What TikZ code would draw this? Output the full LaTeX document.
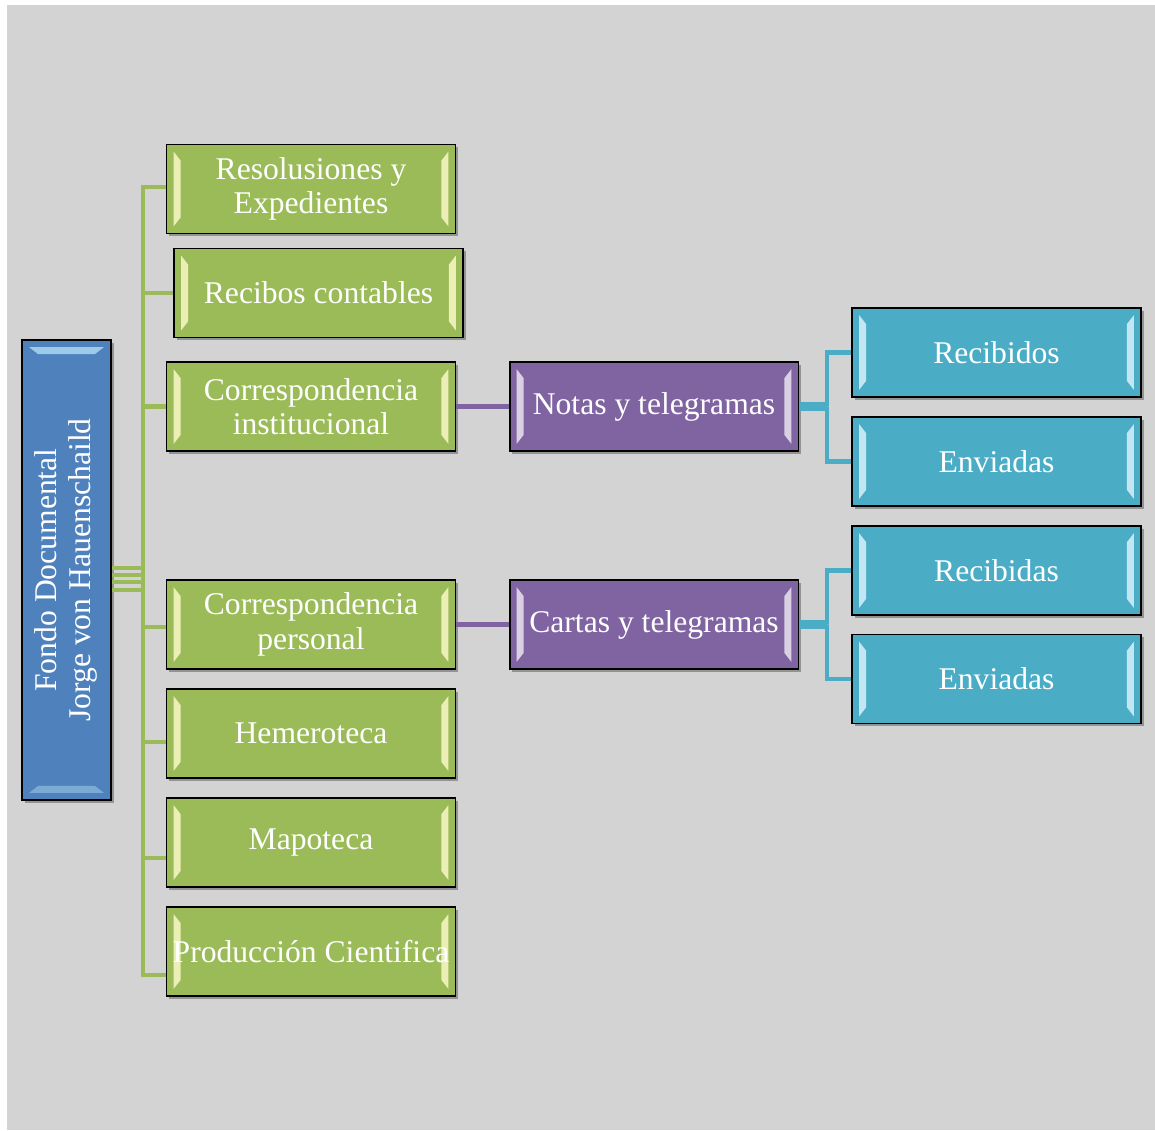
\documentclass[tikz,border=0pt]{standalone}
\usepackage{fontspec}
\setmainfont{Liberation Serif}
\usepackage{tikz}
\usetikzlibrary{calc,shadows,positioning}
\definecolor{bggray}{HTML}{D3D3D3}
\definecolor{grfill}{HTML}{9BBB59}
\definecolor{blfill}{HTML}{4F81BD}
\definecolor{pufill}{HTML}{8064A2}
\definecolor{cyfill}{HTML}{4BACC6}
\tikzset{
	smbox/.style={draw=black,line width=1.1pt,text=white,align=center,
		minimum width=5.78cm,minimum height=1.78cm,inner sep=2pt,
		font=\fontsize{18}{19.5}\selectfont,
		drop shadow={shadow xshift=1.5pt,shadow yshift=-1.5pt,opacity=.3,fill=black}},
	% light edges left and right
	bevel h/.style={path picture={
		\fill[#1,opacity=.8] ($(path picture bounding box.north west)+(7,7)$) -- ++(7,9)
			-- ($(path picture bounding box.south west)+(14,-16)$) -- ++(-7,9) -- cycle;
		\fill[#1,opacity=.8] ($(path picture bounding box.north east)+(-7,7)$) -- ++(-7,9)
			-- ($(path picture bounding box.south east)+(-14,-16)$) -- ++(7,9) -- cycle;}},
	% light edges top and bottom
	bevel v/.style={path picture={
		\fill[#1,opacity=.7] ($(path picture bounding box.north west)+(7,7)$) -- ++(9,7)
			-- ($(path picture bounding box.north east)+(-16,14)$) -- ++(9,-7) -- cycle;
		\fill[#1,opacity=.4] ($(path picture bounding box.south west)+(7,-7)$) -- ++(9,-7)
			-- ($(path picture bounding box.south east)+(-16,-14)$) -- ++(9,7) -- cycle;}},
	grbox/.style={smbox,fill=grfill,bevel h={yellow!20!white}},
	pubox/.style={smbox,fill=pufill,bevel h={pufill!12!white}},
	cybox/.style={smbox,fill=cyfill,bevel h={cyan!12!white}},
	rootbox/.style={smbox,fill=blfill,minimum width=1.78cm,minimum height=9.2cm,
		inner sep=0pt,bevel v={cyan!25!white}},
	grline/.style={draw=grfill,line width=2.3pt},
	puline/.style={draw=pufill,line width=2.6pt},
	cyline/.style={draw=cyfill,line width=2.6pt}
}
\begin{document}
\begin{tikzpicture}[x=0.02cm,y=-0.02cm]
   \useasboundingbox (0,0) rectangle (1155,1130);
   \fill[bggray] (7,5) rectangle (1155,1130);

   \node[rootbox] (fondo) at (66.5,570) {\rotatebox{90}{\begin{tabular}{@{}c@{}}Fondo Documental\\Jorge von Hauenschaild\end{tabular}}};

   \node[grbox] (res) at (311,189) {Resolusiones y\\Expedientes};
   \node[grbox] (rec) at (318.5,293) {Recibos contables};
   \node[grbox] (ci) at (311,406.5) {Correspondencia\\institucional};
   \node[grbox] (cp) at (311,624.5) {Correspondencia\\personal};
   \node[grbox] (hem) at (311,733.5) {Hemeroteca};
   \node[grbox] (map) at (311,842.5) {Mapoteca};
   \node[grbox] (prod) at (311,951.5) {Producción Cientifica};

   \node[pubox] (notas) at (654,406.5) {Notas y telegramas};
   \node[pubox] (cartas) at (654,624.5) {Cartas y telegramas};

   \node[cybox] (nrec) at (996.5,352.5) {Recibidos};
   \node[cybox] (nenv) at (996.5,461.5) {Enviadas};
   \node[cybox] (crec) at (996.5,570.5) {Recibidas};
   \node[cybox] (cenv) at (996.5,679) {Enviadas};

   % green tree
   \coordinate (spine) at (143,580);
   \foreach \c/\r/\s in {res/0.04cm/0.04cm, rec/0.04cm/0cm, ci/-0.1cm/0cm, cp/-0.24cm/-0.05cm,
         hem/-0.24cm/-0.17cm, map/-0.4cm/-0.31cm, prod/-0.4cm/-0.47cm}
      \draw[grline] ([yshift=\r]fondo.east) -| (spine) |- ([yshift=\s]\c.west);

   \draw[puline] (ci) -- (notas);
   \draw[puline] (cp) -- (cartas);

   % blue branches
   \coordinate (nsp) at (827,406.5);
   \coordinate (csp) at (827,624.5);
   \draw[cyline] ([yshift=0.035cm]notas.east) -| (nsp) |- (nrec.west);
   \draw[cyline] ([yshift=-0.035cm]notas.east) -| (nsp) |- (nenv.west);
   \draw[cyline] ([yshift=0.035cm]cartas.east) -| (csp) |- (crec.west);
   \draw[cyline] ([yshift=-0.035cm]cartas.east) -| (csp) |- (cenv.west);
\end{tikzpicture}
\end{document}
